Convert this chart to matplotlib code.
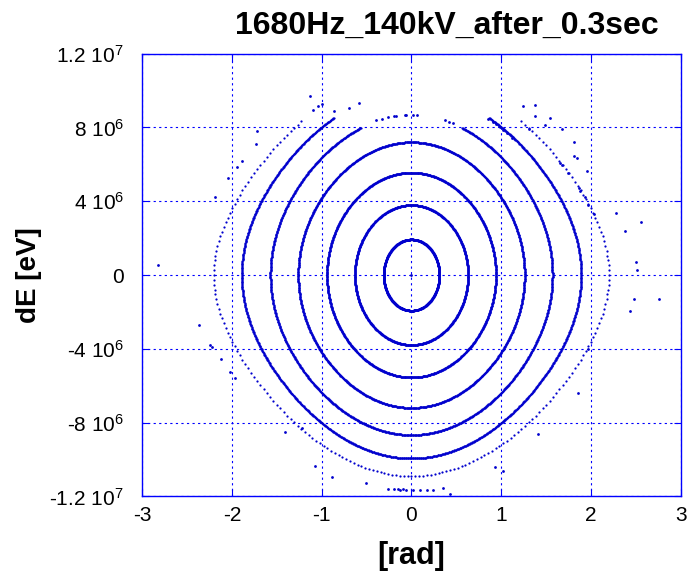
import numpy as np
import matplotlib
matplotlib.use("Agg")
import matplotlib.pyplot as plt

plt.rcParams["font.family"] = ["Liberation Sans", "DejaVu Sans"]
plt.rcParams["mathtext.fontset"] = "custom"
plt.rcParams["mathtext.rm"] = "Liberation Sans"
plt.rcParams["mathtext.default"] = "regular"

# closed orbits in the bucket: phase amplitude [rad] and energy amplitude [eV]
PHASE_AMP = [0.31, 0.63, 0.94, 1.26, 1.57, 1.89, 2.20]
DE_AMP = [1.93e6, 3.79e6, 5.55e6, 7.20e6, 8.67e6, 9.94e6, 10.9e6]
N_POINTS = [700, 900, 1100, 1200, 1300, 1400, 260]
TOP_GAP_DEG = [0, 0, 0, 0, 23, 31, 39]   # empty arc around the top of each orbit

# loose particles outside / between the orbits (phase [rad], dE [MeV])
STRAY_PHASE = [-0.39, -0.33, -0.26, -0.20, -0.17, -0.07, -0.06, 0.02, 0.06, 0.37, 0.42, 0.46,
               0.85, 0.91, 0.94, 0.98, 1.02, 1.06, 1.12,
               -2.82, -2.19, -2.04, -1.72, -1.73, -1.89, -1.94, -1.13, -1.10, -1.04, -1.00,
               -0.86, -0.70, -0.58,
               1.24, 1.37, 1.38, 1.54, 1.31, 1.49, 1.68, 1.81, 1.81, 1.84, 1.65, 1.67, 1.74,
               1.95, 1.86, 1.88, 1.93, 1.97, 2.03, 2.28, 2.38, 2.56, 2.50, 2.51,
               2.48, 2.43, 2.75, 1.85, 1.96, 1.41, 0.93, 1.02, 0.35, 0.43,
               -0.13, -0.06, 0.02, 0.09, 0.17, 0.24, -0.26, -0.20, -0.15, -0.09,
               -2.37, -2.24, -2.22, -2.12, -2.02, -1.96, -1.41, -1.22, -1.07, -0.88, -0.51,
               0.0]
STRAY_DE = [8.40, 8.44, 8.58, 8.62, 8.62, 8.67, 8.67, 8.67, 8.67, 8.40, 8.31, 8.22,
            8.46, 8.31, 8.18, 8.00, 7.86, 7.68, 7.44,
            0.54, 4.21, 5.27, 7.82, 7.10, 6.18, 5.87, 9.70, 8.94, 9.16, 9.27,
            8.91, 9.03, 9.34,
            9.16, 9.21, 8.62, 8.53, 7.90, 8.13, 7.90, 7.22, 6.45, 6.36, 6.09, 5.96, 5.55,
            5.65, 4.73, 4.57, 4.21, 3.81, 3.31, 3.34, 2.40, 2.89, 0.72, 0.27,
            -1.32, -1.93, -1.32, -6.38, -4.03, -8.62, -10.39, -10.60, -11.56, -11.87,
            -11.65, -11.65, -11.65, -11.65, -11.65, -11.65, -11.6, -11.6, -11.6, -11.6,
            -2.71, -3.79, -3.92, -4.57, -5.24, -5.60, -8.53, -8.31, -10.35, -10.93, -11.25,
            0.0]

X_TICKS = [-3, -2, -1, 0, 1, 2, 3]
Y_TICKS = [-1.2e7, -8e6, -4e6, 0, 4e6, 8e6, 1.2e7]
Y_TICKLABELS = ["-1.2 10$^{7}$", "-8 10$^{6}$", "-4 10$^{6}$", "0",
                "4 10$^{6}$", "8 10$^{6}$", "1.2 10$^{7}$"]

DOT = "#0000cd"
FRAME = "#0000ff"

fig = plt.figure(figsize=(6.91, 5.8), dpi=100)
ax = fig.add_axes([0.2055, 0.1441, 0.780, 0.7634])

for amp, de_amp, n, gap in zip(PHASE_AMP, DE_AMP, N_POINTS, TOP_GAP_DEG):
    u = np.linspace(0, 2 * np.pi, n, endpoint=False)
    from_top = np.degrees(np.minimum(u, 2 * np.pi - u))
    u = u[from_top >= gap]
    phase = 2 * np.arcsin(np.sin(amp / 2) * np.sin(u))
    de = de_amp * np.cos(u)
    ax.plot(phase, de, ls="none", marker="o", ms=1.6, mew=0, color=DOT)

ax.plot(STRAY_PHASE, np.array(STRAY_DE) * 1e6, ls="none", marker="o", ms=2.0, mew=0, color=DOT)

ax.set_xlim(-3, 3)
ax.set_ylim(-1.2e7, 1.2e7)
ax.set_xticks(X_TICKS)
ax.set_xticklabels([str(t) for t in X_TICKS])
ax.set_yticks(Y_TICKS)
ax.set_yticklabels(Y_TICKLABELS)

ax.grid(True, color=FRAME, linestyle=(0, (2, 3)), linewidth=0.8)
for sp in ax.spines.values():
    sp.set_color(FRAME)
    sp.set_linewidth(1.0)
ax.tick_params(axis="both", direction="in", length=5, color=FRAME, labelsize=15,
               top=True, right=True)
ax.tick_params(axis="y", pad=13)
ax.tick_params(axis="x", pad=7)

ax.set_title("1680Hz_140kV_after_0.3sec", fontsize=23, fontweight="bold", pad=14, x=0.566)
ax.set_xlabel("[rad]", fontsize=22, fontweight="bold")
ax.xaxis.set_label_coords(0.5, -0.101)
ax.set_ylabel("dE [eV]", fontsize=20, fontweight="bold")
ax.yaxis.set_label_coords(-0.185, 0.5)

fig.savefig("out.png", dpi=100)
